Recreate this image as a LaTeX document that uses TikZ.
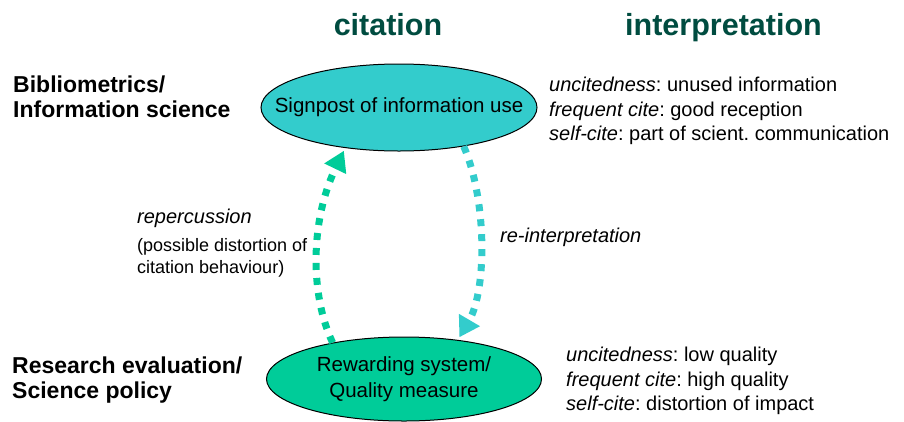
\documentclass[tikz,border=0pt]{standalone}
\usepackage{fontspec}
\setmainfont{Liberation Sans}
\usetikzlibrary{shapes.geometric,arrows.meta}
\frenchspacing
\definecolor{headgreen}{RGB}{0,76,64}
\definecolor{turq}{HTML}{33CCCC}
\definecolor{seagreen}{HTML}{00CC99}
\newcommand{\ovaltext}[1]{\makebox[0pt][c]{\begin{tabular}{@{}c@{}}#1\end{tabular}}}
\tikzset{
  heading/.style={inner sep=0pt, anchor=base, text=headgreen, font=\fontsize{30.5}{36}\selectfont\bfseries},
  sidelabel/.style={inner sep=0pt, anchor=west, align=left, font=\fontsize{23}{25.5}\selectfont\bfseries},
  body/.style={inner sep=0pt, anchor=west, align=left, font=\fontsize{20}{24.2}\selectfont},
  small/.style={inner sep=0pt, anchor=west, align=left, font=\fontsize{18}{22}\selectfont},
  oval/.style={ellipse, draw=black, line width=1pt, inner sep=0pt,
    minimum width=276pt, minimum height=87pt, font=\fontsize{20.5}{26}\selectfont},
  dotarrow/.style={line width=7pt, dash pattern=on 7pt off 8pt,
    -{Triangle[length=20pt,width=23pt]}, shorten >=3pt}
}
\begin{document}
\begin{tikzpicture}[x=1pt,y=-1pt]
\useasboundingbox (0,0) rectangle (904,421);
\node[heading] (hcit) at (388,35) {citation};
\node[heading] (hint) at (723.5,35) {interpretation};

\node[sidelabel] (bib) at (13,97) {Bibliometrics/\\Information science};
\node[sidelabel] (res) at (12,380) {Research evaluation/\\Science policy};

\node[oval, fill=turq] (top) at (399,107.5) {\ovaltext{Signpost of information use}};
\node[oval, fill=seagreen, minimum width=275pt, minimum height=84pt] (bot) at (404,379) {\ovaltext{Rewarding system/\\Quality measure}};

\node[body] (intop) at (549,111) {\textit{uncitedness}: unused information\\\textit{frequent cite}: good reception\\\textit{self-cite}: part of scient. communication};
\node[body] (inbot) at (566,381) {\textit{uncitedness}: low quality\\\textit{frequent cite}: high quality\\\textit{self-cite}: distortion of impact};

\node[body] (rep) at (137,218) {\textit{repercussion}};
\node[small] (poss) at (137,258) {(possible distortion of\\citation behaviour)};
\node[body] (reint) at (500,237) {\textit{re-interpretation}};

\draw[dotarrow, draw=seagreen] (bot.153) .. controls (310,295) and (310,221) .. (top.217);
\draw[dotarrow, draw=turq] (top.-31) .. controls (487,200) and (487,290) .. (bot.36);
\end{tikzpicture}
\end{document}
